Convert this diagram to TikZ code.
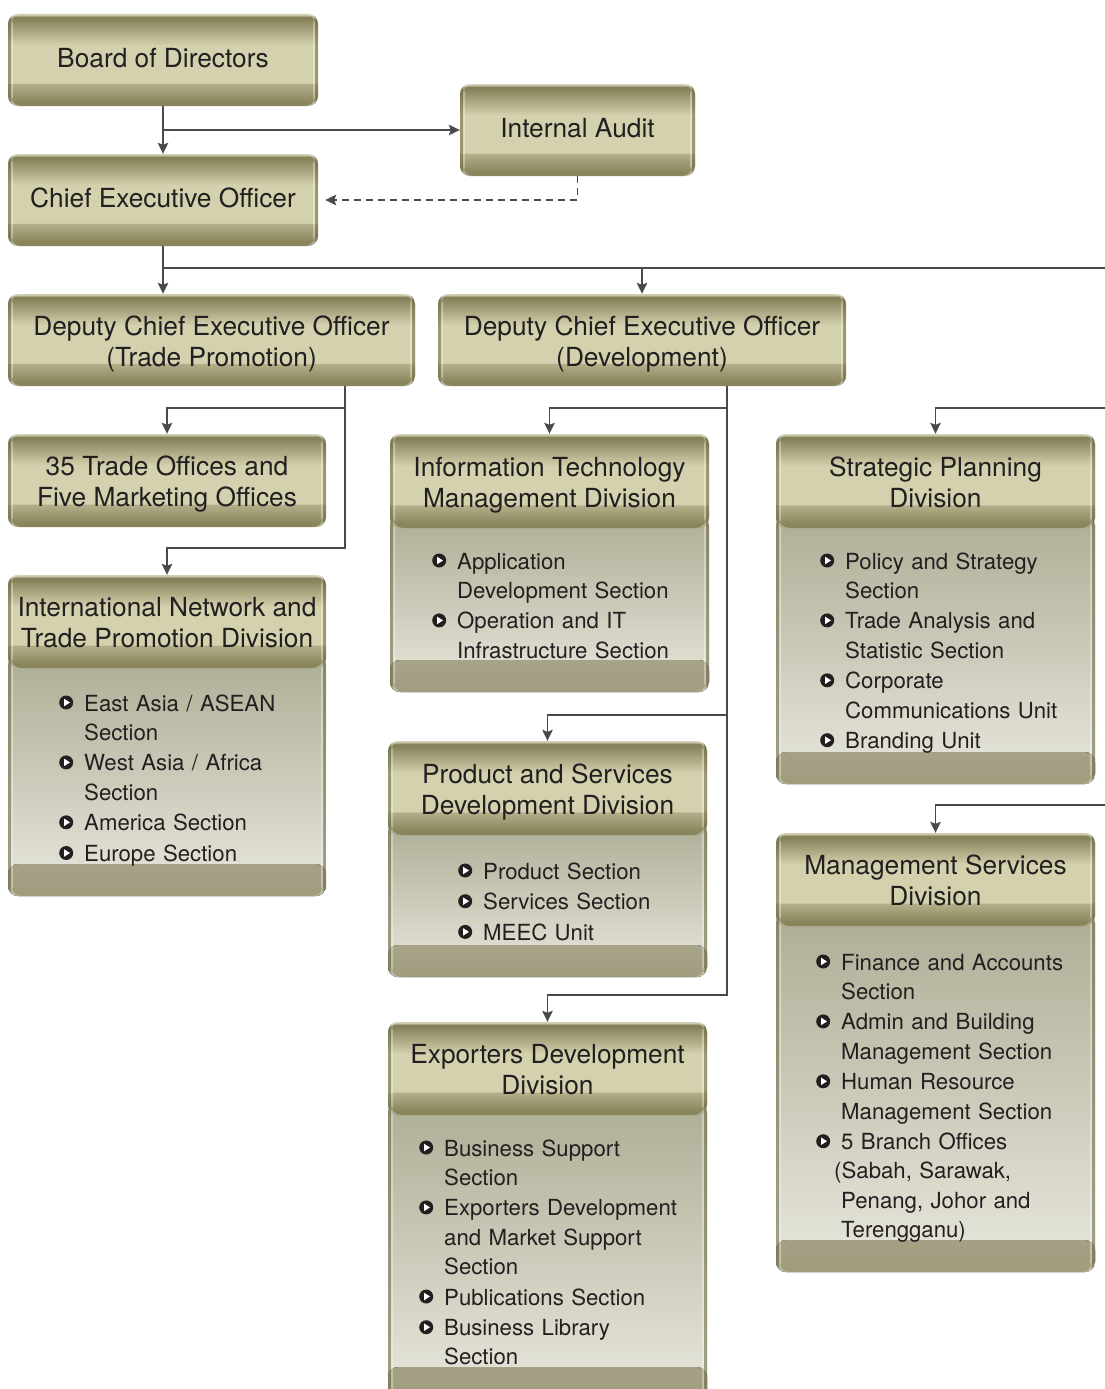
\documentclass[tikz,border=0pt]{standalone}
\usepackage{fontspec}
\setmainfont{TeX Gyre Heros}
\usetikzlibrary{arrows.meta}
\definecolor{txt}{HTML}{231F20}
\definecolor{ln}{HTML}{4A4A4A}
\definecolor{hrim}{HTML}{D2CFB4}
\definecolor{hdark}{HTML}{817D55}
\definecolor{hlight}{HTML}{D4D1AE}
\definecolor{hband}{HTML}{B2AF8A}
\definecolor{hbandd}{HTML}{88845B}
\definecolor{btop}{HTML}{AEAD95}
\definecolor{bbot}{HTML}{E8E7DD}
\definecolor{bandt}{HTML}{C2C0AC}
\definecolor{bandb}{HTML}{A09D7F}
\definecolor{edgec}{HTML}{6A663E}
\pgfdeclareverticalshading{hdrshade}{100bp}{color(0bp)=(hbandd); color(25bp)=(hbandd); color(27bp)=(hbandd); color(37bp)=(hband); color(37.6bp)=(hlight); color(58bp)=(hlight); color(73.3bp)=(hdark); color(74.6bp)=(hrim); color(100bp)=(hrim)}
\newcommand\hfont{\fontsize{26.3pt}{31pt}\selectfont}
\newcommand\bfont{\fontsize{22.2pt}{29.2pt}\selectfont}
\newcommand\hone[1]{\rule[-5.3pt]{0pt}{25.3pt}#1}
\newcommand\htwo[2]{\rule{0pt}{27.7pt}#1\\\rule[-6pt]{0pt}{6pt}#2}
\newcommand\blt{\raisebox{1.5pt}{\tikz[baseline=0pt,sharp corners]{\fill[txt] (7pt,7pt) circle[radius=7pt]; \fill[white] (4.8pt,3.2pt) -- (10.8pt,7pt) -- (4.8pt,10.8pt) -- cycle;}}}
\newcommand\itm[1]{\noindent\hangindent=25pt\hangafter=1\makebox[25pt][l]{\blt}#1\par}
\tikzset{
  hdr/.style={rounded corners=10pt, shade, shading=hdrshade, inner sep=0pt, align=center, font=\hfont, text=txt, path picture={
    \fill[edgec, opacity=.55] (path picture bounding box.south west) rectangle ([xshift=3pt]path picture bounding box.north west);
    \fill[white, opacity=.35] ([xshift=3pt]path picture bounding box.south west) rectangle ([xshift=5pt]path picture bounding box.north west);
    \fill[edgec, opacity=.55] (path picture bounding box.south east) rectangle ([xshift=-3pt]path picture bounding box.north east);
    \fill[white, opacity=.35] ([xshift=-3pt]path picture bounding box.south east) rectangle ([xshift=-5pt]path picture bounding box.north east);
  }},
  bodybg/.style={rounded corners=10pt, top color=btop, bottom color=bbot, inner sep=0pt, path picture={
    \fill[top color=bandt, bottom color=bandb] (path picture bounding box.south west) rectangle ([yshift=32pt]path picture bounding box.south east);
    \fill[edgec, opacity=.55] (path picture bounding box.south west) rectangle ([xshift=3pt]path picture bounding box.north west);
    \fill[white, opacity=.35] ([xshift=3pt]path picture bounding box.south west) rectangle ([xshift=5pt]path picture bounding box.north west);
    \fill[edgec, opacity=.55] (path picture bounding box.south east) rectangle ([xshift=-3pt]path picture bounding box.north east);
    \fill[white, opacity=.35] ([xshift=-3pt]path picture bounding box.south east) rectangle ([xshift=-5pt]path picture bounding box.north east);
  }},
  bodytxt/.style={anchor=base west, inner sep=0pt, text width=300pt, align=left, font=\bfont, text=txt},
  lnk/.style={draw=ln, line width=1.6pt},
  conn/.style={lnk, -{Stealth[length=11pt,width=10.5pt,inset=2pt]}},
}
\begin{document}
\begin{tikzpicture}[x=1pt,y=-1pt]
\useasboundingbox (0,0) rectangle (1104,1389);
\fill[white] (0,0) rectangle (1104,1389);
% single boxes
\node[hdr, minimum width=310pt, minimum height=92pt] (Board) at (163,60) {\hone{Board of Directors}};
\node[hdr, minimum width=235pt, minimum height=92pt] (IA) at (577.5,130) {\hone{Internal Audit}};
\node[hdr, minimum width=310pt, minimum height=92pt] (CEO) at (163,200) {\hone{Chief Executive Officer}};
\node[hdr, minimum width=407pt, minimum height=92pt] (DT) at (211.5,340) {\htwo{Deputy Chief Executive Officer}{(Trade Promotion)}};
\node[hdr, minimum width=408pt, minimum height=92pt] (DD) at (642,340) {\htwo{Deputy Chief Executive Officer}{(Development)}};
\node[hdr, minimum width=318pt, minimum height=93pt] (TO) at (167,480.5) {\htwo{35 Trade Offices and}{Five Marketing Offices}};
% division bodies
\node[bodybg, minimum width=318pt, minimum height=241pt] (INTPb) at (167,775.5) {};
\node[bodybg, minimum width=319pt, minimum height=177pt] (ITMDb) at (549.5,603.5) {};
\node[bodybg, minimum width=319pt, minimum height=269pt] (SPDb) at (935.5,649.5) {};
\node[bodybg, minimum width=319pt, minimum height=155pt] (PSDDb) at (547.5,899.5) {};
\node[bodybg, minimum width=319pt, minimum height=297pt] (EDDb) at (547.5,1250.5) {};
\node[bodybg, minimum width=319pt, minimum height=359pt] (MSDb) at (935.5,1092.5) {};
% division headers
\node[hdr, minimum width=318pt, minimum height=93pt] (INTP) at (167,621.5) {\htwo{International Network and}{Trade Promotion Division}};
\node[hdr, minimum width=319pt, minimum height=94pt] (ITMD) at (549.5,481) {\htwo{Information Technology}{Management Division}};
\node[hdr, minimum width=319pt, minimum height=94pt] (SPD) at (935.5,481) {\htwo{Strategic Planning}{Division}};
\node[hdr, minimum width=319pt, minimum height=94pt] (PSDD) at (547.5,788) {\htwo{Product and Services}{Development Division}};
\node[hdr, minimum width=319pt, minimum height=93pt] (EDD) at (547.5,1068.5) {\htwo{Exporters Development}{Division}};
\node[hdr, minimum width=319pt, minimum height=93pt] (MSD) at (935.5,879.5) {\htwo{Management Services}{Division}};
% body texts
\node[bodytxt] (INTPt) at (59,711) {\setlength{\parskip}{1.5pt}%
\itm{East Asia / ASEAN\newline Section}
\itm{West Asia / Africa\newline Section}
\itm{America Section}
\itm{Europe Section}};
\node[bodytxt] (ITMDt) at (432,569) {\setlength{\parskip}{1.5pt}%
\itm{Application\newline Development Section}
\itm{Operation and IT\newline Infrastructure Section}};
\node[bodytxt] (SPDt) at (820,569) {\setlength{\parskip}{1.5pt}%
\itm{Policy and Strategy\newline Section}
\itm{Trade Analysis and\newline Statistic Section}
\itm{Corporate\newline Communications Unit}
\itm{Branding Unit}};
\node[bodytxt] (PSDDt) at (458,879) {\setlength{\parskip}{1.5pt}%
\itm{Product Section}
\itm{Services Section}
\itm{MEEC Unit}};
\node[bodytxt] (EDDt) at (419,1156) {\setlength{\parskip}{1.5pt}%
\itm{Business Support\newline Section}
\itm{Exporters Development\newline and Market Support\newline Section}
\itm{Publications Section}
\itm{Business Library\newline Section}};
\node[bodytxt] (MSDt) at (816,970) {\setlength{\parskip}{1.5pt}%
\itm{Finance and Accounts\newline Section}
\itm{Admin and Building\newline Management Section}
\itm{Human Resource\newline Management Section}
\itm{5 Branch Offices\newline\hspace*{-7pt}(Sabah, Sarawak,\newline Penang, Johor and\newline Terengganu)}};
% connectors
\draw[conn] (Board.south) -- (CEO.north);
\draw[conn] (Board.south |- IA.west) -- (IA.west);
\draw[conn, dash pattern=on 7pt off 5pt] (IA.south) |- ([xshift=7pt]CEO.east);
\coordinate (busR) at (1106,268);
\draw[lnk] (CEO.south) -- (CEO.south |- busR) -- (busR);
\draw[conn] (CEO.south |- busR) -- (CEO.south |- DT.north);
\draw[conn] (DD.north |- busR) -- (DD.north);
\coordinate (tA) at (345,386);
\draw[conn] (tA) |- ([yshift=26pt]TO.north) -- (TO.north);
\draw[conn] (tA) |- ([yshift=27pt]INTP.north) -- (INTP.north);
\coordinate (dA) at (727,386);
\draw[conn] (dA) |- ([yshift=26pt]ITMD.north) -- (ITMD.north);
\draw[conn] (dA) |- ([yshift=26pt]PSDD.north) -- (PSDD.north);
\draw[conn] (dA) |- ([yshift=27pt]EDD.north) -- (EDD.north);
\coordinate (rA) at (1106,408);
\coordinate (rB) at (1106,805);
\draw[conn] (rA) -| (SPD.north);
\draw[conn] (rB) -| (MSD.north);
\end{tikzpicture}
\end{document}
